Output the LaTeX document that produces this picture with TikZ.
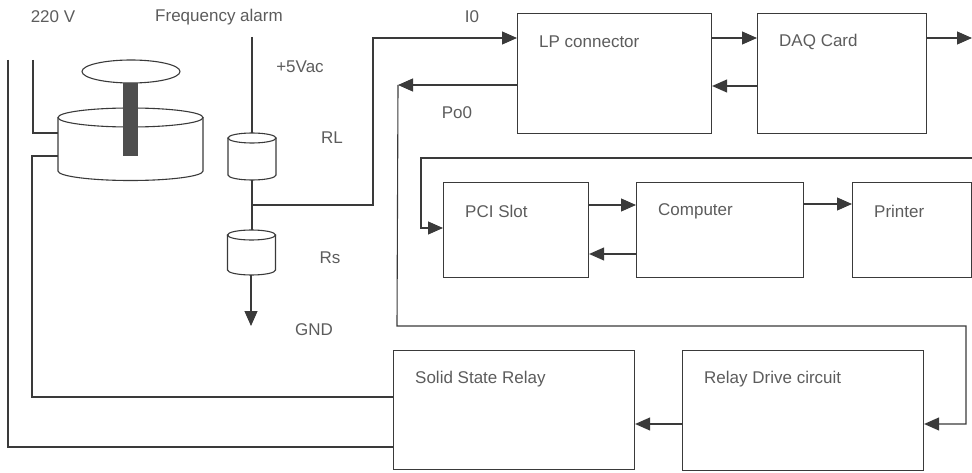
\documentclass[tikz,border=0pt]{standalone}
\usepackage{fontspec}
\setmainfont{Liberation Sans}
\usetikzlibrary{arrows.meta}
\definecolor{ink}{HTML}{3A3A3A}
\definecolor{txt}{HTML}{5C5C5C}
\tikzset{
  wire/.style={draw=ink, line width=1.1pt},
  arr/.style={wire, -{Triangle[length=15pt,width=13pt]}},
  box/.style={draw=ink, line width=1.1pt, anchor=north west, inner sep=0pt},
  boxtext/.style={anchor=west, inner sep=0pt, xshift=22pt, yshift=-29pt, text=txt},
  lbl/.style={text=txt, inner sep=0pt},
}
\begin{document}
\begin{tikzpicture}[x=1pt,y=-1pt,font=\fontsize{17}{20}\selectfont]
\useasboundingbox (0,0) rectangle (972,473);
% blocks
\node[box,minimum width=194pt,minimum height=120pt,label={[boxtext]north west:LP connector}] (lp) at (517,13) {};
\node[box,minimum width=169pt,minimum height=120pt,label={[boxtext]north west:DAQ Card}] (daq) at (757,13) {};
\node[box,minimum width=145pt,minimum height=95pt,label={[boxtext]north west:PCI Slot}] (pci) at (443,182) {};
\node[box,minimum width=167pt,minimum height=95pt,label={[boxtext]north west:Computer}] (comp) at (636,182) {};
\node[box,minimum width=119pt,minimum height=95pt,label={[boxtext]north west:Printer}] (prn) at (852,182) {};
\node[box,minimum width=241pt,minimum height=119pt,label={[boxtext]north west:Solid State Relay}] (ssr) at (393,350) {};
\node[box,minimum width=241pt,minimum height=120pt,label={[boxtext]north west:Relay Drive circuit}] (rdc) at (682,350) {};
% tank with float
\draw[wire] (130.5,117.5) ellipse [x radius=72.5pt,y radius=9.5pt];
\draw[wire] (58,117.5) -- (58,171) arc [start angle=180,end angle=360,x radius=72.5pt,y radius=9.5pt] -- (203,117.5);
\draw[wire] (131,71.5) ellipse [x radius=49pt,y radius=11.5pt];
\fill[ink!90] (123,83) rectangle (138,156);
\coordinate (tankA) at (58,133);
\coordinate (tankB) at (58,156);
% RL and Rs
\draw[wire] (252,138) ellipse [x radius=24pt,y radius=5pt];
\draw[wire] (228,138) -- (228,175) arc [start angle=180,end angle=360,x radius=24pt,y radius=5pt] -- (276,138);
\draw[wire] (251.5,235) ellipse [x radius=24pt,y radius=5pt];
\draw[wire] (227.5,235) -- (227.5,270) arc [start angle=180,end angle=360,x radius=24pt,y radius=5pt] -- (275.5,235);
\coordinate (rltop) at (252,133);
\coordinate (rlbot) at (252,180);
\coordinate (rstop) at (252,230);
\coordinate (rsbot) at (251,275);
\coordinate (jn) at (252,205);
\coordinate (gnd) at (251,326);
\coordinate (po) at (398,85);
% labels
\node[lbl] (v220) at (53,17) {220 V};
\node[lbl] (alarm) at (219,17) {Frequency alarm};
\node[lbl] (vac) at (300,67) {+5Vac};
\node[lbl] (rl) at (332,138) {RL};
\node[lbl] (rs) at (330,258) {Rs};
\node[lbl] (gndtxt) at (314,330) {GND};
\node[lbl] (io) at (472,17) {I0};
\node[lbl] (pot) at (457,113) {Po0};
% mains wiring
\draw[wire] (33,60) -- (33,133) -- (tankA);
\draw[wire] (tankB) -- (32,156) -- (32,397) -- ([yshift=-47pt]ssr.north west);
\draw[wire] (8,60) -- (8,447) -- ([yshift=-97pt]ssr.north west);
% sensor chain
\draw[wire] (252,37) -- (rltop);
\draw[wire] (rlbot) -- (rstop);
\draw[arr] (rsbot) -- (gnd);
\draw[arr] (jn) -- (373,205) -- (373,38) -- ([yshift=-25pt]lp.north west);
% data paths
\draw[arr] ([yshift=-25pt]lp.north east) -- ([yshift=-25pt]daq.north west);
\draw[arr] ([yshift=-73pt]daq.north west) -- ([yshift=-73pt]lp.north east);
\draw[arr] ([yshift=-25pt]daq.north east) -- (972,38);
\draw[arr] ([yshift=-72pt]lp.north west) -- (po);
\draw[arr] (po) -- (397,326) -- (966,326) |- ([yshift=-74pt]rdc.north east);
\draw[arr] (972,158) -- (421,158) -- (421,228) -- ([yshift=-46pt]pci.north west);
\draw[arr] ([yshift=-23pt]pci.north east) -- ([yshift=-23pt]comp.north west);
\draw[arr] ([yshift=-72pt]comp.north west) -- ([yshift=-72pt]pci.north east);
\draw[arr] ([yshift=-22pt]comp.north east) -- ([yshift=-22pt]prn.north west);
\draw[arr] ([yshift=-74pt]rdc.north west) -- ([yshift=-74pt]ssr.north east);
\end{tikzpicture}
\end{document}
